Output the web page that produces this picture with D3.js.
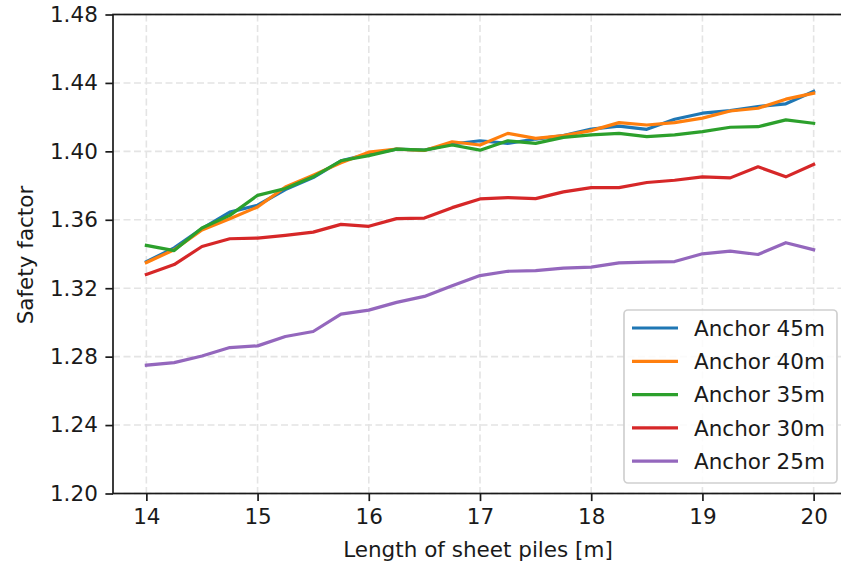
<!DOCTYPE html>
<html>
<head>
<meta charset="utf-8">
<script src="https://cdn.jsdelivr.net/npm/d3@7/dist/d3.min.js"></script>
<style>
  html, body { margin: 0; padding: 0; background: #fff; }
  svg { display: block; }
  text { font-family: "DejaVu Sans", sans-serif; fill: #1a1a1a; }
</style>
</head>
<body>
<svg id="chart" width="841" height="567"></svg>
<script>
// Sheet pile length [m]
const pileLengths = [14, 14.25, 14.5, 14.75, 15, 15.25, 15.5, 15.75, 16, 16.25, 16.5, 16.75,
  17, 17.25, 17.5, 17.75, 18, 18.25, 18.5, 18.75, 19, 19.25, 19.5, 19.75, 20];

// Safety factor per anchor length
const anchor45 = [1.3355, 1.3436, 1.3548, 1.3645, 1.3685, 1.3777, 1.3847, 1.3945, 1.3984, 1.4013,
  1.4007, 1.4043, 1.4062, 1.4047, 1.4072, 1.4092, 1.4130, 1.4148, 1.4129, 1.4188, 1.4223, 1.4238,
  1.4262, 1.4278, 1.4350];
const anchor40 = [1.3350, 1.3425, 1.3540, 1.3606, 1.3675, 1.3792, 1.3861, 1.3933, 1.3995, 1.4013,
  1.4005, 1.4056, 1.4037, 1.4105, 1.4076, 1.4092, 1.4121, 1.4168, 1.4154, 1.4168, 1.4194, 1.4236,
  1.4252, 1.4305, 1.4340];
const anchor35 = [1.3450, 1.3420, 1.3552, 1.3626, 1.3743, 1.3783, 1.3851, 1.3945, 1.3975, 1.4013,
  1.4007, 1.4037, 1.4007, 1.4062, 1.4047, 1.4082, 1.4096, 1.4105, 1.4086, 1.4096, 1.4115, 1.4141,
  1.4144, 1.4184, 1.4164];
const anchor30 = [1.3280, 1.3338, 1.3444, 1.3489, 1.3493, 1.3509, 1.3528, 1.3573, 1.3562, 1.3607,
  1.3610, 1.3671, 1.3722, 1.3730, 1.3724, 1.3763, 1.3788, 1.3788, 1.3818, 1.3831, 1.3851, 1.3845,
  1.3910, 1.3851, 1.3924];
const anchor25 = [1.2750, 1.2765, 1.2804, 1.2853, 1.2863, 1.2918, 1.2947, 1.3049, 1.3072, 1.3117,
  1.3152, 1.3215, 1.3274, 1.3299, 1.3303, 1.3317, 1.3323, 1.3348, 1.3352, 1.3356, 1.3401, 1.3417,
  1.3397, 1.3466, 1.3425];

const seriesNames = ["Anchor 45m", "Anchor 40m", "Anchor 35m", "Anchor 30m", "Anchor 25m"];
const seriesValues = [anchor45, anchor40, anchor35, anchor30, anchor25];
const seriesColors = ["#1f77b4", "#ff7f0e", "#2ca02c", "#d62728", "#9467bd"];

const xTicks = [14, 15, 16, 17, 18, 19, 20];
const yTicks = [1.20, 1.24, 1.28, 1.32, 1.36, 1.40, 1.44, 1.48];

const svg = d3.select("#chart");
const fontSize = 21.5;
const plot = { left: 113, right: 847, top: 14.5, bottom: 493.5 };

const x = d3.scaleLinear().domain([13.7, 20.3]).range([plot.left, plot.right]);
const y = d3.scaleLinear().domain([1.20, 1.48]).range([plot.bottom, plot.top]);

// grid
const grid = svg.append("g").attr("stroke", "#e4e4e4").attr("stroke-width", 1.6)
  .attr("stroke-dasharray", "7,3.5");
grid.selectAll("line.gx").data(xTicks).join("line")
  .attr("x1", d => x(d)).attr("x2", d => x(d))
  .attr("y1", plot.top).attr("y2", plot.bottom);
grid.selectAll("line.gy").data(yTicks).join("line")
  .attr("x1", plot.left).attr("x2", plot.right)
  .attr("y1", d => y(d)).attr("y2", d => y(d));

// series lines
const line = d3.line()
  .x((d, i) => x(pileLengths[i]))
  .y(d => y(d));
svg.append("g").selectAll("path").data(seriesValues).join("path")
  .attr("d", d => line(d))
  .attr("fill", "none")
  .attr("stroke", (d, i) => seriesColors[i])
  .attr("stroke-width", 3.2)
  .attr("stroke-linejoin", "round")
  .attr("stroke-linecap", "square");

// axes
const xAxis = d3.axisBottom(x).tickValues(xTicks).tickFormat(d3.format("d"))
  .tickSize(7.6).tickPadding(7.6);
const yAxis = d3.axisLeft(y).tickValues(yTicks).tickFormat(d3.format(".2f"))
  .tickSize(7.6).tickPadding(7.6);

const gx = svg.append("g").attr("transform", `translate(0,${plot.bottom})`).call(xAxis);
const gy = svg.append("g").attr("transform", `translate(${plot.left},0)`).call(yAxis);
[gx, gy].forEach(g => {
  g.select(".domain").remove();
  g.selectAll(".tick line").attr("stroke", "#1a1a1a").attr("stroke-width", 1.7);
  g.selectAll(".tick text").attr("font-size", fontSize)
    .attr("font-family", "DejaVu Sans").attr("fill", "#1a1a1a");
});
gx.selectAll(".tick text").attr("dy", "0.72em");

// frame
svg.append("rect")
  .attr("x", plot.left).attr("y", plot.top)
  .attr("width", plot.right - plot.left).attr("height", plot.bottom - plot.top)
  .attr("fill", "none").attr("stroke", "#1a1a1a").attr("stroke-width", 1.7);

// axis titles
svg.append("text")
  .attr("x", 478).attr("y", 557)
  .attr("text-anchor", "middle").attr("font-size", fontSize)
  .text("Length of sheet piles [m]");
svg.append("text")
  .attr("transform", "translate(33,255) rotate(-90)")
  .attr("text-anchor", "middle").attr("font-size", fontSize)
  .text("Safety factor");

// legend
const legend = svg.append("g");
legend.append("rect")
  .attr("x", 624).attr("y", 310).attr("width", 213).attr("height", 173)
  .attr("rx", 4).attr("fill", "#fff").attr("fill-opacity", 0.85)
  .attr("stroke", "#d0d0d0").attr("stroke-width", 1.7);
const rows = legend.selectAll("g.row").data(seriesNames).join("g")
  .attr("transform", (d, i) => `translate(0,${328 + i * 33.3})`);
rows.append("line")
  .attr("x1", 632).attr("x2", 678).attr("y1", 0).attr("y2", 0)
  .attr("stroke", (d, i) => seriesColors[i]).attr("stroke-width", 3.2);
rows.append("text")
  .attr("x", 694).attr("y", 0).attr("dy", "0.36em")
  .attr("font-size", fontSize)
  .text(d => d);
</script>
</body>
</html>
